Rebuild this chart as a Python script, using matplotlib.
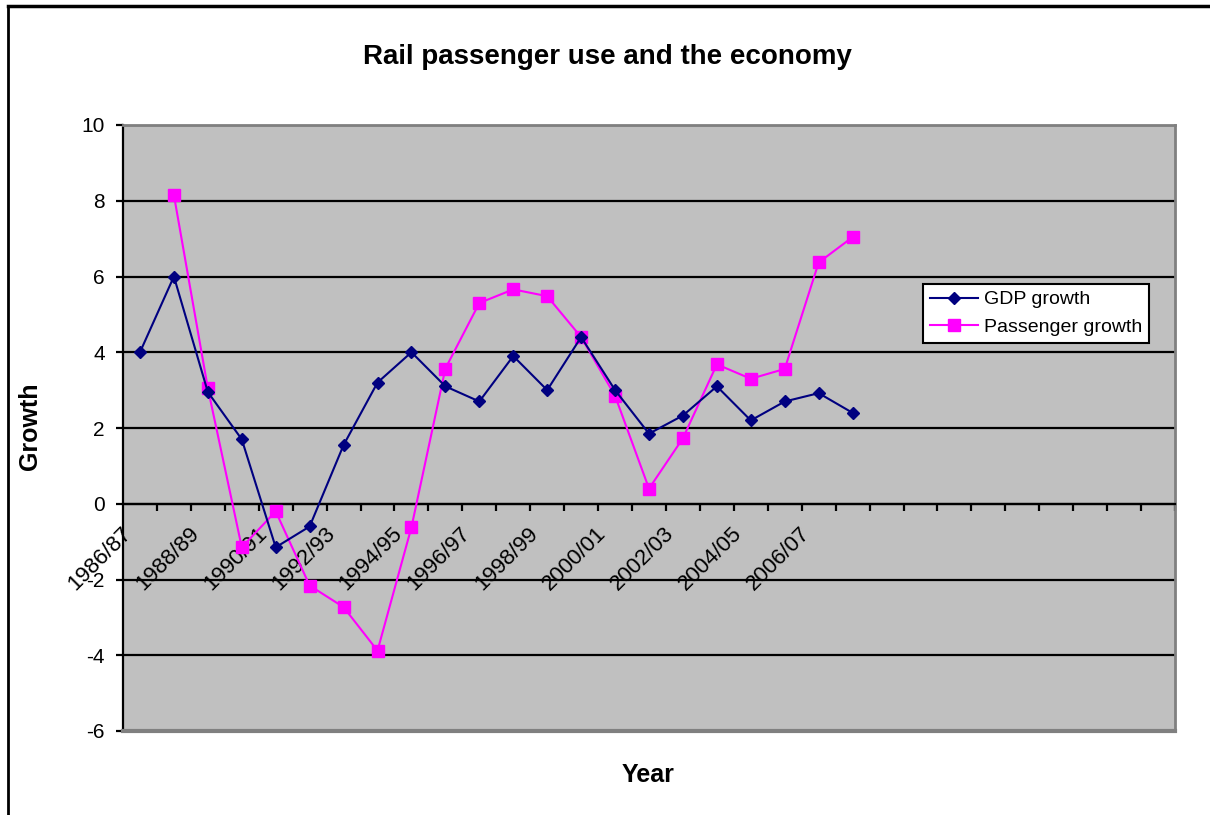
import matplotlib
matplotlib.use("Agg")
import matplotlib.pyplot as plt
from matplotlib.lines import Line2D
from matplotlib.transforms import ScaledTranslation
import numpy as np

# ---- data ----
years = ["1986/87", "1987/88", "1988/89", "1989/90", "1990/91", "1991/92", "1992/93",
         "1993/94", "1994/95", "1995/96", "1996/97", "1997/98", "1998/99", "1999/00",
         "2000/01", "2001/02", "2002/03", "2003/04", "2004/05", "2005/06", "2006/07",
         "2007/08"]
n_categories = 31
gdp_growth = [4.0, 6.0, 2.95, 1.7, -1.15, -0.6, 1.55, 3.2, 4.0, 3.1, 2.7, 3.9, 3.0,
              4.4, 3.0, 1.85, 2.33, 3.1, 2.2, 2.7, 2.92, 2.4]
passenger_growth = [None, 8.15, 3.05, -1.15, -0.2, -2.16, -2.73, -3.88, -0.62, 3.57,
                    5.3, 5.66, 5.48, 4.4, 2.85, 0.4, 1.73, 3.68, 3.3, 3.56, 6.37, 7.04]
y_ticks = [-6, -4, -2, 0, 2, 4, 6, 8, 10]

W, H = 1210, 815
fig = plt.figure(figsize=(W / 100, H / 100), dpi=100)
fig.patch.set_facecolor("white")

ax = fig.add_axes([123 / W, 1 - 731 / H, (1175 - 123) / W, (731 - 125) / H])
ax.set_facecolor("#C0C0C0")

x_gdp = np.arange(len(gdp_growth))
x_pas = np.array([i for i, v in enumerate(passenger_growth) if v is not None])
y_pas = np.array([v for v in passenger_growth if v is not None])

ax.plot(x_gdp, gdp_growth, color="#000080", lw=1.5, marker="D", ms=6.5,
        label="GDP growth", zorder=4)
ax.plot(x_pas, y_pas, color="#FF00FF", lw=1.5, marker="s", ms=8.5,
        label="Passenger growth", zorder=3)

ax.set_xlim(-0.5, n_categories - 0.5)
ax.set_ylim(-6, 10)
ax.set_yticks(y_ticks)
ax.set_yticklabels([str(v) for v in y_ticks])

# grid
ax.yaxis.grid(True, color="black", lw=1.6, zorder=1)
ax.set_axisbelow(True)

# spines
for s in ["top", "right"]:
    ax.spines[s].set_color("#808080")
    ax.spines[s].set_linewidth(2)
ax.spines["left"].set_color("black")
ax.spines["left"].set_linewidth(1.6)
ax.spines["bottom"].set_position(("data", 0))
ax.spines["bottom"].set_color("black")
ax.spines["bottom"].set_linewidth(1.6)
ax.axhline(-6, color="#808080", lw=3, clip_on=False, zorder=5)

# x ticks: marks at category boundaries, labels at centers
ax.set_xticks(np.arange(0.5, n_categories, 1.0))
ax.set_xticklabels([])
ax.tick_params(axis="x", which="major", direction="out", length=5, width=1.6,
               color="black")
label_pos = list(range(0, len(years), 2))
ax.set_xticks(label_pos, minor=True)
ax.set_xticklabels([years[i] for i in label_pos], minor=True, rotation=45,
                   ha="right", va="center", rotation_mode="anchor",
                   fontsize=16, family="Liberation Sans")
ax.tick_params(axis="x", which="minor", length=0, pad=19)
offset = ScaledTranslation(-12 / 100, 0, fig.dpi_scale_trans)
for lab in ax.get_xticklabels(minor=True):
    lab.set_transform(lab.get_transform() + offset)

ax.tick_params(axis="y", direction="out", length=5, width=1.6, pad=8,
               labelsize=15)
for lab in ax.get_yticklabels():
    lab.set_family("Liberation Sans")

# titles
fig.text(607 / W, 1 - 57 / H, "Rail passenger use and the economy", ha="center",
         va="center", fontsize=20, fontweight="bold", family="Liberation Sans")
fig.text(30 / W, 1 - 426 / H, "Growth", ha="center", va="center", rotation=90,
         fontsize=18, fontweight="bold", family="Liberation Sans")
fig.text(648 / W, 1 - 775 / H, "Year", ha="center", va="center",
         fontsize=18, fontweight="bold", family="Liberation Sans")

# legend
leg = fig.legend(loc="upper left", bbox_to_anchor=(923 / W, 1 - 284 / H),
                 bbox_transform=fig.transFigure, borderaxespad=0,
                 prop={"family": "Liberation Sans", "size": 14},
                 handlelength=2.5, handletextpad=0.3, labelspacing=0.5,
                 borderpad=0.35, fancybox=False, framealpha=1, edgecolor="black")
leg.get_frame().set_linewidth(1.5)

# outer chart frame
fig.add_artist(Line2D([8 / W, 1.0], [1 - 6 / H, 1 - 6 / H], color="black", lw=2.5,
                      transform=fig.transFigure))
fig.add_artist(Line2D([8 / W, 8 / W], [1 - 6 / H, 0], color="black", lw=2,
                      transform=fig.transFigure))

fig.savefig("out.png", dpi=100)
